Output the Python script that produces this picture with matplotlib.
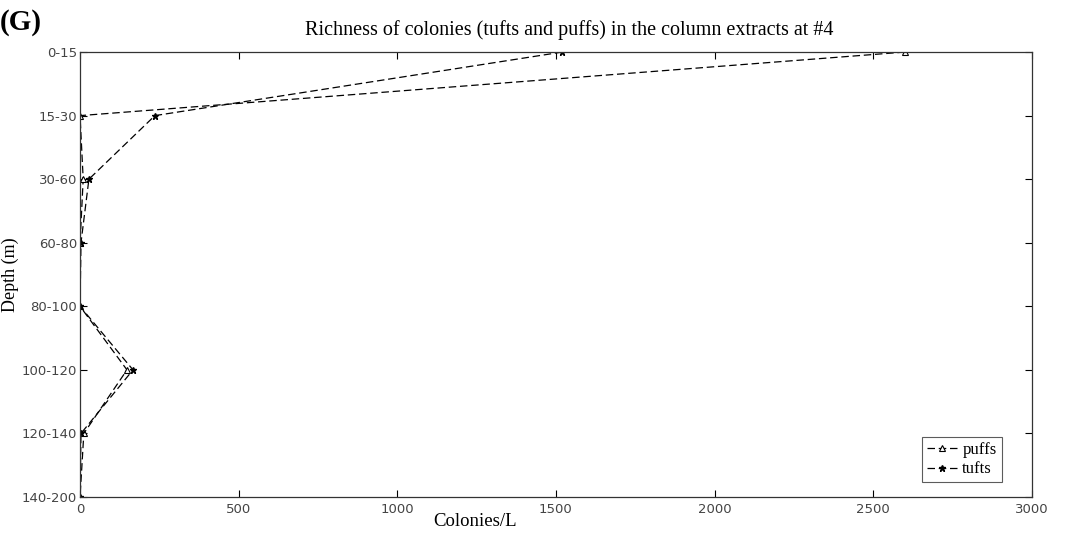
import numpy as np
import matplotlib.pyplot as plt

# Depth layers (m) and colony counts per litre
depths = ['0-15', '15-30', '30-60', '60-80', '80-100', '100-120', '120-140', '140-200']
puffs = [2600, 0, 10, 0, 0, 148, 12, 0]
tufts = [1520, 236, 28, 3, 0, 167, 3, 0]

serif = 'Liberation Serif'
sans = 'DejaVu Sans'

fig = plt.figure(figsize=(10.67, 5.4), dpi=100)
ax = fig.add_axes([0.075, 0.0796, 0.892, 0.824])

ypos = np.arange(len(depths))
ax.plot(puffs, ypos, color='black', linestyle='--', linewidth=0.9, dashes=(6, 3),
        marker='^', markersize=5, markerfacecolor='white', markeredgecolor='black',
        markeredgewidth=0.8, label='puffs')
ax.plot(tufts, ypos, color='black', linestyle='--', linewidth=0.9, dashes=(6, 3),
        marker='*', markersize=5, markerfacecolor='black', markeredgecolor='black',
        label='tufts')

ax.set_xlim(0, 3000)
ax.set_ylim(len(depths) - 1, 0)
ax.set_yticks(ypos)
ax.set_yticklabels(depths, fontfamily=sans, fontsize=9.5, color='#444444')
ax.set_xticks(np.arange(0, 3001, 500))
ax.set_xticklabels([str(v) for v in range(0, 3001, 500)], fontfamily=sans,
                   fontsize=9.5, color='#444444')
ax.tick_params(direction='in', top=True, right=True, length=5, width=0.8)
ax.tick_params(axis='y', pad=2)
ax.tick_params(axis='x', pad=4)
for sp in ax.spines.values():
    sp.set_linewidth(0.9)
    sp.set_color('#333333')

ax.set_title('Richness of colonies (tufts and puffs) in the column extracts at #4',
             fontfamily=serif, fontsize=14.5, pad=12, x=0.514)
ax.set_xlabel('Colonies/L', fontfamily=serif, fontsize=13.5, labelpad=-2)
ax.xaxis.set_label_coords(0.415, -0.035, transform=ax.transAxes)
ax.xaxis.label.set_verticalalignment('top')
ax.set_ylabel('Depth (m)', fontfamily=serif, fontsize=13, labelpad=2)

leg = ax.legend(loc='lower right', bbox_to_anchor=(0.977, 0.014), fancybox=False,
                edgecolor='#333333', handlelength=1.8, handletextpad=0.3,
                borderpad=0.3, labelspacing=0.2, prop={'family': serif, 'size': 12})
leg.get_frame().set_linewidth(0.8)

fig.text(0.0, 0.945, '(G)', fontfamily=serif, fontweight='bold', fontsize=21)

fig.savefig('out.png', dpi=100)
